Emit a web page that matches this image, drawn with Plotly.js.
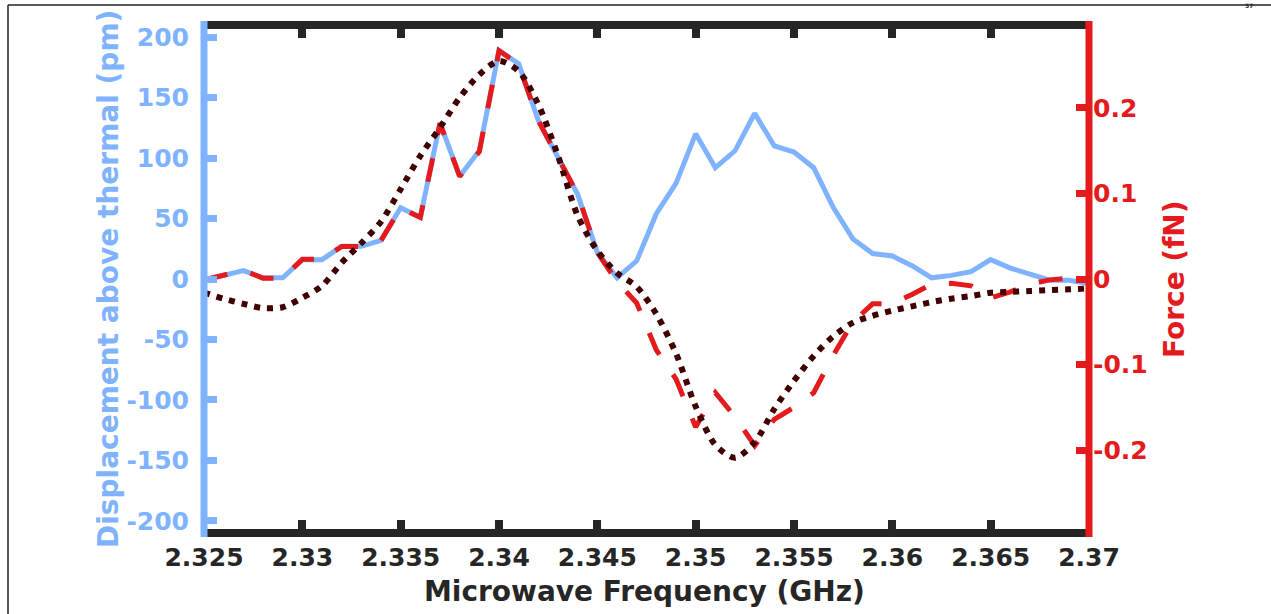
<!DOCTYPE html>
<html>
<head>
<meta charset="utf-8">
<script src="https://cdn.plot.ly/plotly-3.0.1.min.js"></script>
<style>html,body{margin:0;padding:0;background:#fff;}#chart{width:1271px;height:614px;}</style>
</head>
<body>
<div id="chart"></div>
<script>
// Frequency grid (GHz)
const freq = [2.325,2.326,2.327,2.328,2.329,2.330,2.331,2.332,2.333,2.334,2.335,2.336,2.337,2.338,2.339,2.340,2.341,2.342,2.343,2.344,2.345,2.346,2.347,2.348,2.349,2.350,2.351,2.352,2.353,2.354,2.355,2.356,2.357,2.358,2.359,2.360,2.361,2.362,2.363,2.364,2.365,2.366,2.367,2.368,2.369,2.370];

// Measured displacement above thermal (pm)
const displacement = [-1,3,7,1,1,16,16,27,27,32,59,51,129,85,106,189,178,131,100,70,22,1,15,54,79,120,92,106,137,110,105,92,59,33,21,19,11,1,3,6,16,9,4,-1,-1,-4];

// Measured force (fN)
const force = [-0.001,0.004,0.010,0.001,0.001,0.023,0.023,0.038,0.038,0.045,0.083,0.072,0.182,0.120,0.149,0.267,0.251,0.185,0.141,0.099,0.031,-0.003,-0.028,-0.083,-0.117,-0.173,-0.133,-0.161,-0.195,-0.164,-0.150,-0.133,-0.089,-0.050,-0.029,-0.029,-0.018,-0.006,-0.005,-0.008,-0.022,-0.015,-0.006,-0.001,0.001,0.001];

// Theoretical force (fN)
const theory = [-0.016,-0.023,-0.029,-0.034,-0.033,-0.022,-0.008,0.019,0.042,0.067,0.105,0.144,0.177,0.212,0.239,0.255,0.243,0.204,0.144,0.074,0.033,0.007,-0.009,-0.041,-0.087,-0.149,-0.194,-0.209,-0.191,-0.152,-0.119,-0.090,-0.067,-0.051,-0.043,-0.037,-0.032,-0.027,-0.023,-0.020,-0.016,-0.015,-0.014,-0.013,-0.012,-0.011];

// Tick labels
const xTickVals = [2.325,2.33,2.335,2.34,2.345,2.35,2.355,2.36,2.365,2.37];
const xTickText = ['2.325','2.33','2.335','2.34','2.345','2.35','2.355','2.36','2.365','2.37'];
const yTickVals = [-200,-150,-100,-50,0,50,100,150,200];
const yTickText = ['-200','-150','-100','-50','0','50','100','150','200'];
const y2TickVals = [-0.2,-0.1,0,0.1,0.2];
const y2TickText = ['-0.2','-0.1','0','0.1','0.2'];

const BLUE = '#80b3ff';
const RED = '#e41a1c';
const DARK = '#400000';
const INK = '#262626';
const FONT = 'DejaVu Sans';

const traces = [
  {x: freq, y: displacement, type: 'scatter', mode: 'lines', yaxis: 'y',
   line: {color: BLUE, width: 5}, hoverinfo: 'skip'},
  {x: freq, y: force, type: 'scatter', mode: 'lines', yaxis: 'y2',
   line: {color: RED, width: 5, dash: '24px,24px'}, hoverinfo: 'skip'},
  {x: freq, y: theory, type: 'scatter', mode: 'lines', yaxis: 'y2',
   line: {color: DARK, width: 6, dash: '6px,7px', shape: 'spline', smoothing: 0.8}, hoverinfo: 'skip'}
];

const L = 204, T = 25, W = 885, H = 508;
function px2x(p){ return (p - L) / W; }
function px2y(p){ return (T + H - p) / H; }

const layout = {
  width: 1271, height: 614,
  margin: {l: L, r: 1271 - L - W, t: T, b: 614 - T - H, pad: 0},
  paper_bgcolor: '#ffffff', plot_bgcolor: '#ffffff',
  showlegend: false,
  font: {family: FONT, weight: 'bold', color: INK},
  xaxis: {
    range: [2.325, 2.37], tickvals: xTickVals, ticktext: xTickText,
    ticks: 'inside', ticklen: 13, tickwidth: 8, tickcolor: INK,
    mirror: 'ticks', showline: false, showgrid: false, zeroline: false,
    ticklabelstandoff: 7,
    tickfont: {family: FONT, weight: 'bold', size: 25, color: INK},
    fixedrange: true
  },
  yaxis: {
    range: [-210, 210], tickvals: yTickVals, ticktext: yTickText,
    ticks: 'inside', ticklen: 13, tickwidth: 7, tickcolor: BLUE,
    showline: false, showgrid: false, zeroline: false,
    ticklabelstandoff: 14,
    tickfont: {family: FONT, weight: 'bold', size: 25, color: BLUE},
    fixedrange: true
  },
  yaxis2: {
    range: [-0.297, 0.297], tickvals: y2TickVals, ticktext: y2TickText,
    overlaying: 'y', side: 'right',
    ticks: 'inside', ticklen: 13, tickwidth: 7, tickcolor: RED,
    showline: false, showgrid: false, zeroline: false,
    ticklabelstandoff: 3,
    tickfont: {family: FONT, weight: 'bold', size: 25, color: RED},
    fixedrange: true
  },
  shapes: [
    {type: 'line', xref: 'paper', yref: 'paper', x0: 0, x1: 1, y0: 1, y1: 1, line: {color: INK, width: 8}, layer: 'above'},
    {type: 'line', xref: 'paper', yref: 'paper', x0: 0, x1: 1, y0: 0, y1: 0, line: {color: INK, width: 8}, layer: 'above'},
    {type: 'line', xref: 'paper', yref: 'paper', x0: 0, x1: 0, y0: -4/H, y1: 1 + 4/H, line: {color: BLUE, width: 7}, layer: 'above'},
    {type: 'line', xref: 'paper', yref: 'paper', x0: 1, x1: 1, y0: -4/H, y1: 1 + 4/H, line: {color: RED, width: 7}, layer: 'above'},
    {type: 'line', xref: 'paper', yref: 'paper', x0: px2x(8), x1: px2x(1271), y0: px2y(5), y1: px2y(5), line: {color: '#222222', width: 1.5}},
    {type: 'line', xref: 'paper', yref: 'paper', x0: px2x(8), x1: px2x(8), y0: px2y(5), y1: px2y(614), line: {color: '#222222', width: 1.5}}
  ],
  annotations: [
    {text: 'Microwave Frequency (GHz)', xref: 'paper', yref: 'paper', x: px2x(644), y: px2y(591),
     xanchor: 'center', yanchor: 'middle', showarrow: false,
     font: {family: FONT, weight: 'bold', size: 28, color: INK}},
    {text: 'Displacement above thermal (pm)', xref: 'paper', yref: 'paper', x: px2x(108), y: px2y(279),
     xanchor: 'center', yanchor: 'middle', showarrow: false, textangle: -90,
     font: {family: FONT, weight: 'bold', size: 28, color: BLUE}},
    {text: 'Force (fN)', xref: 'paper', yref: 'paper', x: px2x(1174), y: px2y(279),
     xanchor: 'center', yanchor: 'middle', showarrow: false, textangle: -90,
     font: {family: FONT, weight: 'bold', size: 28, color: RED}},
    {text: '57', xref: 'paper', yref: 'paper', x: px2x(1249), y: px2y(0),
     xanchor: 'center', yanchor: 'top', showarrow: false,
     font: {family: FONT, size: 6, color: '#222222'}}
  ]
};

Plotly.newPlot('chart', traces, layout, {staticPlot: true, displayModeBar: false});
</script>
</body>
</html>
